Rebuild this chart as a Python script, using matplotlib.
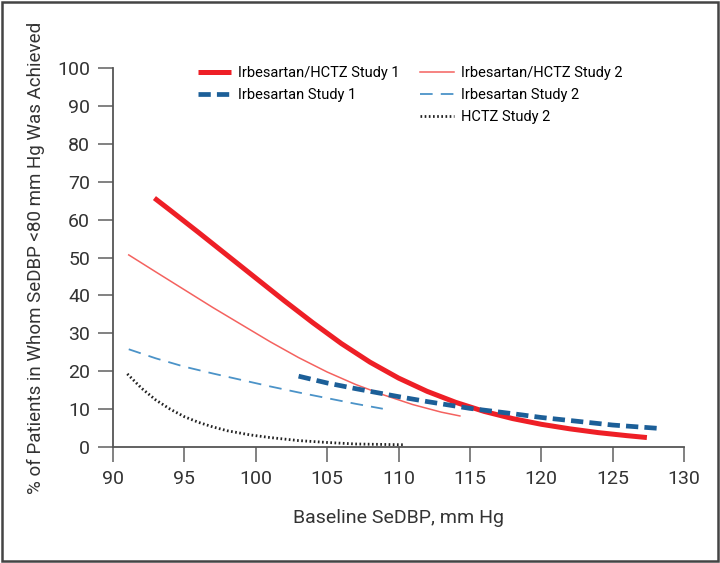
import matplotlib
matplotlib.use("Agg")
from matplotlib import pyplot as plt
from matplotlib.lines import Line2D
from matplotlib.patches import Rectangle

plt.rcParams['font.family'] = ['Roboto', 'DejaVu Sans']

# Irbesartan/HCTZ Study 1
combo1_x = [92.9, 94, 96, 98, 100, 102, 104, 106, 108, 110, 112, 114, 116, 118, 120, 122, 124, 126, 127.4]
combo1_y = [65.7, 62.5, 56.6, 50.6, 44.6, 38.6, 32.8, 27.3, 22.4, 18.2, 14.7, 11.8, 9.4, 7.5, 6.0, 4.8, 3.8, 3.0, 2.5]

# Irbesartan/HCTZ Study 2
combo2_x = [91.1, 93, 95, 97, 99, 101, 103, 105, 107, 109, 111, 113, 114.3]
combo2_y = [50.7, 46.2, 41.5, 36.8, 32.3, 27.8, 23.6, 19.8, 16.5, 13.7, 11.2, 9.2, 8.2]

# Irbesartan Study 1
irb1_x = [103, 105, 107, 110, 112, 115, 118, 120, 122, 125, 128.3]
irb1_y = [18.7, 16.9, 15.4, 13.3, 12.0, 10.2, 8.8, 7.8, 7.0, 5.8, 4.9]

# Irbesartan Study 2
irb2_x = [91.1, 93, 95, 97, 99, 101, 103, 105, 107, 108.9]
irb2_y = [25.8, 23.4, 21.2, 19.4, 17.7, 16.0, 14.4, 12.9, 11.4, 10.1]

# HCTZ Study 2
hctz_x = [91, 92, 93, 94, 95, 96, 97, 98, 99.6, 101, 103, 105, 107, 110.3]
hctz_y = [19.3, 15.5, 12.4, 10.0, 8.0, 6.5, 5.3, 4.3, 3.2, 2.5, 1.7, 1.2, 0.8, 0.6]

fig = plt.figure(figsize=(7.2, 5.63), dpi=100)
ax = fig.add_axes([0.157, 0.206, 0.793, 0.673])

red = '#ee1f26'
red_light = '#f4625f'
blue = '#1c5f98'
blue_light = '#4b93c8'

l1, = ax.plot(combo1_x, combo1_y, color=red, lw=3.6, solid_capstyle='butt')
l2, = ax.plot(combo2_x, combo2_y, color=red_light, lw=1.1)
l3, = ax.plot(irb1_x, irb1_y, color=blue, lw=3.4, dashes=(2.6, 1.3))
l4, = ax.plot(irb2_x, irb2_y, color=blue_light, lw=1.3, dashes=(7, 4.5))
l5, = ax.plot(hctz_x, hctz_y, color='#222222', lw=2.0, dashes=(0.6, 0.9))

blank = Line2D([], [], color='none')
ax.legend([l1, l3, blank, l2, l4, l5],
          ['Irbesartan/HCTZ Study 1', 'Irbesartan Study 1', '',
           'Irbesartan/HCTZ Study 2', 'Irbesartan Study 2', 'HCTZ Study 2'],
          ncol=2, loc='upper left', bbox_to_anchor=(0.125, 1.04),
          frameon=False, fontsize=10.5, handlelength=2.3, handletextpad=0.5,
          columnspacing=1.4, labelspacing=0.55)

ax.set_xlim(90, 130)
ax.set_ylim(0, 100)
ax.set_xticks(range(90, 131, 5))
ax.set_yticks(range(0, 101, 10))
for s in ['top', 'right']:
    ax.spines[s].set_visible(False)
for s in ['left', 'bottom']:
    ax.spines[s].set_color('#555555')
    ax.spines[s].set_linewidth(1.3)
ax.tick_params(direction='out', length=10.5, width=1.3, color='#777777',
               labelsize=14, labelcolor='#333333', pad=6)

ax.set_xlabel('Baseline SeDBP, mm Hg', fontsize=14, color='#333333', labelpad=15)
ax.set_ylabel('% of Patients in Whom SeDBP <80 mm Hg Was Achieved', fontsize=13.5,
              color='#333333', labelpad=9)

# outer frame
fig.patches.append(Rectangle((0.003, 0.003), 0.994, 0.994, transform=fig.transFigure,
                             fill=False, edgecolor='#444444', linewidth=1.8))

fig.savefig('out.png', dpi=100)
